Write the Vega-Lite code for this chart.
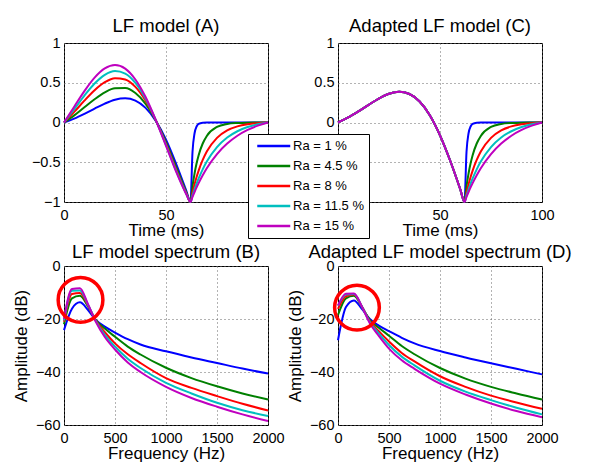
{
"$schema": "https://vega.github.io/schema/vega-lite/v6.json",
"background": "white",
"padding": {"left": 11, "top": 16, "right": 0, "bottom": 0},
"columns": 2,
"spacing": {"row": 3, "column": 0},
"datasets": {
"A": [
{"Ra":"Ra = 1 %","t":0,"v":0},{"Ra":"Ra = 1 %","t":5,"v":0.048},{"Ra":"Ra = 1 %","t":10,"v":0.108},{"Ra":"Ra = 1 %","t":15,"v":0.174},{"Ra":"Ra = 1 %","t":20,"v":0.238},{"Ra":"Ra = 1 %","t":25,"v":0.287},{"Ra":"Ra = 1 %","t":30,"v":0.305},{"Ra":"Ra = 1 %","t":35,"v":0.276},{"Ra":"Ra = 1 %","t":40,"v":0.184},{"Ra":"Ra = 1 %","t":45,"v":0.02},{"Ra":"Ra = 1 %","t":50,"v":-0.217},{"Ra":"Ra = 1 %","t":55,"v":-0.523},{"Ra":"Ra = 1 %","t":60,"v":-0.862},{"Ra":"Ra = 1 %","t":62,"v":-1},{"Ra":"Ra = 1 %","t":63,"v":-0.368},{"Ra":"Ra = 1 %","t":64,"v":-0.135},{"Ra":"Ra = 1 %","t":65,"v":-0.05},{"Ra":"Ra = 1 %","t":66,"v":-0.018},{"Ra":"Ra = 1 %","t":68,"v":-0.003},{"Ra":"Ra = 1 %","t":70,"v":0},{"Ra":"Ra = 1 %","t":75,"v":0},{"Ra":"Ra = 1 %","t":80,"v":0},{"Ra":"Ra = 1 %","t":85,"v":0},{"Ra":"Ra = 1 %","t":90,"v":0},{"Ra":"Ra = 1 %","t":95,"v":0},{"Ra":"Ra = 1 %","t":100,"v":0},
{"Ra":"Ra = 4.5 %","t":0,"v":0},{"Ra":"Ra = 4.5 %","t":5,"v":0.089},{"Ra":"Ra = 4.5 %","t":10,"v":0.191},{"Ra":"Ra = 4.5 %","t":15,"v":0.292},{"Ra":"Ra = 4.5 %","t":20,"v":0.378},{"Ra":"Ra = 4.5 %","t":25,"v":0.43},{"Ra":"Ra = 4.5 %","t":30,"v":0.433},{"Ra":"Ra = 4.5 %","t":35,"v":0.371},{"Ra":"Ra = 4.5 %","t":40,"v":0.235},{"Ra":"Ra = 4.5 %","t":45,"v":0.025},{"Ra":"Ra = 4.5 %","t":50,"v":-0.248},{"Ra":"Ra = 4.5 %","t":55,"v":-0.564},{"Ra":"Ra = 4.5 %","t":60,"v":-0.881},{"Ra":"Ra = 4.5 %","t":62,"v":-1},{"Ra":"Ra = 4.5 %","t":63,"v":-0.801},{"Ra":"Ra = 4.5 %","t":64,"v":-0.641},{"Ra":"Ra = 4.5 %","t":65,"v":-0.513},{"Ra":"Ra = 4.5 %","t":66,"v":-0.411},{"Ra":"Ra = 4.5 %","t":68,"v":-0.264},{"Ra":"Ra = 4.5 %","t":70,"v":-0.169},{"Ra":"Ra = 4.5 %","t":75,"v":-0.056},{"Ra":"Ra = 4.5 %","t":80,"v":-0.018},{"Ra":"Ra = 4.5 %","t":85,"v":-0.006},{"Ra":"Ra = 4.5 %","t":90,"v":-0.002},{"Ra":"Ra = 4.5 %","t":95,"v":-0.001},{"Ra":"Ra = 4.5 %","t":100,"v":0},
{"Ra":"Ra = 8 %","t":0,"v":0},{"Ra":"Ra = 8 %","t":5,"v":0.133},{"Ra":"Ra = 8 %","t":10,"v":0.275},{"Ra":"Ra = 8 %","t":15,"v":0.406},{"Ra":"Ra = 8 %","t":20,"v":0.507},{"Ra":"Ra = 8 %","t":25,"v":0.558},{"Ra":"Ra = 8 %","t":30,"v":0.542},{"Ra":"Ra = 8 %","t":35,"v":0.448},{"Ra":"Ra = 8 %","t":40,"v":0.274},{"Ra":"Ra = 8 %","t":45,"v":0.028},{"Ra":"Ra = 8 %","t":50,"v":-0.27},{"Ra":"Ra = 8 %","t":55,"v":-0.593},{"Ra":"Ra = 8 %","t":60,"v":-0.893},{"Ra":"Ra = 8 %","t":62,"v":-1},{"Ra":"Ra = 8 %","t":63,"v":-0.882},{"Ra":"Ra = 8 %","t":64,"v":-0.778},{"Ra":"Ra = 8 %","t":65,"v":-0.686},{"Ra":"Ra = 8 %","t":66,"v":-0.605},{"Ra":"Ra = 8 %","t":68,"v":-0.471},{"Ra":"Ra = 8 %","t":70,"v":-0.365},{"Ra":"Ra = 8 %","t":75,"v":-0.193},{"Ra":"Ra = 8 %","t":80,"v":-0.099},{"Ra":"Ra = 8 %","t":85,"v":-0.049},{"Ra":"Ra = 8 %","t":90,"v":-0.022},{"Ra":"Ra = 8 %","t":95,"v":-0.008},{"Ra":"Ra = 8 %","t":100,"v":0},
{"Ra":"Ra = 11.5 %","t":0,"v":0},{"Ra":"Ra = 11.5 %","t":5,"v":0.167},{"Ra":"Ra = 11.5 %","t":10,"v":0.338},{"Ra":"Ra = 11.5 %","t":15,"v":0.49},{"Ra":"Ra = 11.5 %","t":20,"v":0.599},{"Ra":"Ra = 11.5 %","t":25,"v":0.647},{"Ra":"Ra = 11.5 %","t":30,"v":0.616},{"Ra":"Ra = 11.5 %","t":35,"v":0.499},{"Ra":"Ra = 11.5 %","t":40,"v":0.299},{"Ra":"Ra = 11.5 %","t":45,"v":0.03},{"Ra":"Ra = 11.5 %","t":50,"v":-0.283},{"Ra":"Ra = 11.5 %","t":55,"v":-0.609},{"Ra":"Ra = 11.5 %","t":60,"v":-0.901},{"Ra":"Ra = 11.5 %","t":62,"v":-1},{"Ra":"Ra = 11.5 %","t":63,"v":-0.917},{"Ra":"Ra = 11.5 %","t":64,"v":-0.84},{"Ra":"Ra = 11.5 %","t":65,"v":-0.769},{"Ra":"Ra = 11.5 %","t":66,"v":-0.704},{"Ra":"Ra = 11.5 %","t":68,"v":-0.589},{"Ra":"Ra = 11.5 %","t":70,"v":-0.492},{"Ra":"Ra = 11.5 %","t":75,"v":-0.31},{"Ra":"Ra = 11.5 %","t":80,"v":-0.189},{"Ra":"Ra = 11.5 %","t":85,"v":-0.11},{"Ra":"Ra = 11.5 %","t":90,"v":-0.057},{"Ra":"Ra = 11.5 %","t":95,"v":-0.023},{"Ra":"Ra = 11.5 %","t":100,"v":0},
{"Ra":"Ra = 15 %","t":0,"v":0},{"Ra":"Ra = 15 %","t":5,"v":0.199},{"Ra":"Ra = 15 %","t":10,"v":0.395},{"Ra":"Ra = 15 %","t":15,"v":0.564},{"Ra":"Ra = 15 %","t":20,"v":0.68},{"Ra":"Ra = 15 %","t":25,"v":0.723},{"Ra":"Ra = 15 %","t":30,"v":0.678},{"Ra":"Ra = 15 %","t":35,"v":0.541},{"Ra":"Ra = 15 %","t":40,"v":0.32},{"Ra":"Ra = 15 %","t":45,"v":0.031},{"Ra":"Ra = 15 %","t":50,"v":-0.293},{"Ra":"Ra = 15 %","t":55,"v":-0.622},{"Ra":"Ra = 15 %","t":60,"v":-0.906},{"Ra":"Ra = 15 %","t":62,"v":-1},{"Ra":"Ra = 15 %","t":63,"v":-0.935},{"Ra":"Ra = 15 %","t":64,"v":-0.874},{"Ra":"Ra = 15 %","t":65,"v":-0.817},{"Ra":"Ra = 15 %","t":66,"v":-0.763},{"Ra":"Ra = 15 %","t":68,"v":-0.664},{"Ra":"Ra = 15 %","t":70,"v":-0.576},{"Ra":"Ra = 15 %","t":75,"v":-0.397},{"Ra":"Ra = 15 %","t":80,"v":-0.265},{"Ra":"Ra = 15 %","t":85,"v":-0.167},{"Ra":"Ra = 15 %","t":90,"v":-0.094},{"Ra":"Ra = 15 %","t":95,"v":-0.04},{"Ra":"Ra = 15 %","t":100,"v":0}
],
"C": [
{"Ra":"Ra = 1 %","t":0,"v":0},{"Ra":"Ra = 1 %","t":5,"v":0.063},{"Ra":"Ra = 1 %","t":10,"v":0.139},{"Ra":"Ra = 1 %","t":15,"v":0.222},{"Ra":"Ra = 1 %","t":20,"v":0.301},{"Ra":"Ra = 1 %","t":25,"v":0.361},{"Ra":"Ra = 1 %","t":30,"v":0.386},{"Ra":"Ra = 1 %","t":35,"v":0.359},{"Ra":"Ra = 1 %","t":40,"v":0.264},{"Ra":"Ra = 1 %","t":45,"v":0.092},{"Ra":"Ra = 1 %","t":50,"v":-0.161},{"Ra":"Ra = 1 %","t":55,"v":-0.481},{"Ra":"Ra = 1 %","t":60,"v":-0.846},{"Ra":"Ra = 1 %","t":62,"v":-1},{"Ra":"Ra = 1 %","t":63,"v":-0.368},{"Ra":"Ra = 1 %","t":64,"v":-0.135},{"Ra":"Ra = 1 %","t":65,"v":-0.05},{"Ra":"Ra = 1 %","t":66,"v":-0.018},{"Ra":"Ra = 1 %","t":68,"v":-0.003},{"Ra":"Ra = 1 %","t":70,"v":0},{"Ra":"Ra = 1 %","t":75,"v":0},{"Ra":"Ra = 1 %","t":80,"v":0},{"Ra":"Ra = 1 %","t":85,"v":0},{"Ra":"Ra = 1 %","t":90,"v":0},{"Ra":"Ra = 1 %","t":95,"v":0},{"Ra":"Ra = 1 %","t":100,"v":0},
{"Ra":"Ra = 4.5 %","t":0,"v":0},{"Ra":"Ra = 4.5 %","t":5,"v":0.063},{"Ra":"Ra = 4.5 %","t":10,"v":0.139},{"Ra":"Ra = 4.5 %","t":15,"v":0.222},{"Ra":"Ra = 4.5 %","t":20,"v":0.301},{"Ra":"Ra = 4.5 %","t":25,"v":0.361},{"Ra":"Ra = 4.5 %","t":30,"v":0.386},{"Ra":"Ra = 4.5 %","t":35,"v":0.359},{"Ra":"Ra = 4.5 %","t":40,"v":0.264},{"Ra":"Ra = 4.5 %","t":45,"v":0.092},{"Ra":"Ra = 4.5 %","t":50,"v":-0.161},{"Ra":"Ra = 4.5 %","t":55,"v":-0.481},{"Ra":"Ra = 4.5 %","t":60,"v":-0.846},{"Ra":"Ra = 4.5 %","t":62,"v":-1},{"Ra":"Ra = 4.5 %","t":63,"v":-0.801},{"Ra":"Ra = 4.5 %","t":64,"v":-0.641},{"Ra":"Ra = 4.5 %","t":65,"v":-0.513},{"Ra":"Ra = 4.5 %","t":66,"v":-0.411},{"Ra":"Ra = 4.5 %","t":68,"v":-0.264},{"Ra":"Ra = 4.5 %","t":70,"v":-0.169},{"Ra":"Ra = 4.5 %","t":75,"v":-0.056},{"Ra":"Ra = 4.5 %","t":80,"v":-0.018},{"Ra":"Ra = 4.5 %","t":85,"v":-0.006},{"Ra":"Ra = 4.5 %","t":90,"v":-0.002},{"Ra":"Ra = 4.5 %","t":95,"v":-0.001},{"Ra":"Ra = 4.5 %","t":100,"v":0},
{"Ra":"Ra = 8 %","t":0,"v":0},{"Ra":"Ra = 8 %","t":5,"v":0.063},{"Ra":"Ra = 8 %","t":10,"v":0.139},{"Ra":"Ra = 8 %","t":15,"v":0.222},{"Ra":"Ra = 8 %","t":20,"v":0.301},{"Ra":"Ra = 8 %","t":25,"v":0.361},{"Ra":"Ra = 8 %","t":30,"v":0.386},{"Ra":"Ra = 8 %","t":35,"v":0.359},{"Ra":"Ra = 8 %","t":40,"v":0.264},{"Ra":"Ra = 8 %","t":45,"v":0.092},{"Ra":"Ra = 8 %","t":50,"v":-0.161},{"Ra":"Ra = 8 %","t":55,"v":-0.481},{"Ra":"Ra = 8 %","t":60,"v":-0.846},{"Ra":"Ra = 8 %","t":62,"v":-1},{"Ra":"Ra = 8 %","t":63,"v":-0.882},{"Ra":"Ra = 8 %","t":64,"v":-0.778},{"Ra":"Ra = 8 %","t":65,"v":-0.686},{"Ra":"Ra = 8 %","t":66,"v":-0.605},{"Ra":"Ra = 8 %","t":68,"v":-0.471},{"Ra":"Ra = 8 %","t":70,"v":-0.365},{"Ra":"Ra = 8 %","t":75,"v":-0.193},{"Ra":"Ra = 8 %","t":80,"v":-0.099},{"Ra":"Ra = 8 %","t":85,"v":-0.049},{"Ra":"Ra = 8 %","t":90,"v":-0.022},{"Ra":"Ra = 8 %","t":95,"v":-0.008},{"Ra":"Ra = 8 %","t":100,"v":0},
{"Ra":"Ra = 11.5 %","t":0,"v":0},{"Ra":"Ra = 11.5 %","t":5,"v":0.063},{"Ra":"Ra = 11.5 %","t":10,"v":0.139},{"Ra":"Ra = 11.5 %","t":15,"v":0.222},{"Ra":"Ra = 11.5 %","t":20,"v":0.301},{"Ra":"Ra = 11.5 %","t":25,"v":0.361},{"Ra":"Ra = 11.5 %","t":30,"v":0.386},{"Ra":"Ra = 11.5 %","t":35,"v":0.359},{"Ra":"Ra = 11.5 %","t":40,"v":0.264},{"Ra":"Ra = 11.5 %","t":45,"v":0.092},{"Ra":"Ra = 11.5 %","t":50,"v":-0.161},{"Ra":"Ra = 11.5 %","t":55,"v":-0.481},{"Ra":"Ra = 11.5 %","t":60,"v":-0.846},{"Ra":"Ra = 11.5 %","t":62,"v":-1},{"Ra":"Ra = 11.5 %","t":63,"v":-0.917},{"Ra":"Ra = 11.5 %","t":64,"v":-0.84},{"Ra":"Ra = 11.5 %","t":65,"v":-0.769},{"Ra":"Ra = 11.5 %","t":66,"v":-0.704},{"Ra":"Ra = 11.5 %","t":68,"v":-0.589},{"Ra":"Ra = 11.5 %","t":70,"v":-0.492},{"Ra":"Ra = 11.5 %","t":75,"v":-0.31},{"Ra":"Ra = 11.5 %","t":80,"v":-0.189},{"Ra":"Ra = 11.5 %","t":85,"v":-0.11},{"Ra":"Ra = 11.5 %","t":90,"v":-0.057},{"Ra":"Ra = 11.5 %","t":95,"v":-0.023},{"Ra":"Ra = 11.5 %","t":100,"v":0},
{"Ra":"Ra = 15 %","t":0,"v":0},{"Ra":"Ra = 15 %","t":5,"v":0.063},{"Ra":"Ra = 15 %","t":10,"v":0.139},{"Ra":"Ra = 15 %","t":15,"v":0.222},{"Ra":"Ra = 15 %","t":20,"v":0.301},{"Ra":"Ra = 15 %","t":25,"v":0.361},{"Ra":"Ra = 15 %","t":30,"v":0.386},{"Ra":"Ra = 15 %","t":35,"v":0.359},{"Ra":"Ra = 15 %","t":40,"v":0.264},{"Ra":"Ra = 15 %","t":45,"v":0.092},{"Ra":"Ra = 15 %","t":50,"v":-0.161},{"Ra":"Ra = 15 %","t":55,"v":-0.481},{"Ra":"Ra = 15 %","t":60,"v":-0.846},{"Ra":"Ra = 15 %","t":62,"v":-1},{"Ra":"Ra = 15 %","t":63,"v":-0.935},{"Ra":"Ra = 15 %","t":64,"v":-0.874},{"Ra":"Ra = 15 %","t":65,"v":-0.817},{"Ra":"Ra = 15 %","t":66,"v":-0.763},{"Ra":"Ra = 15 %","t":68,"v":-0.664},{"Ra":"Ra = 15 %","t":70,"v":-0.576},{"Ra":"Ra = 15 %","t":75,"v":-0.397},{"Ra":"Ra = 15 %","t":80,"v":-0.265},{"Ra":"Ra = 15 %","t":85,"v":-0.167},{"Ra":"Ra = 15 %","t":90,"v":-0.094},{"Ra":"Ra = 15 %","t":95,"v":-0.04},{"Ra":"Ra = 15 %","t":100,"v":0}
],
"B": [
{"Ra":"Ra = 1 %","f":0,"db":-24.2},{"Ra":"Ra = 1 %","f":78,"db":-16.1},{"Ra":"Ra = 1 %","f":156,"db":-13.7},{"Ra":"Ra = 1 %","f":234,"db":-16.5},{"Ra":"Ra = 1 %","f":312,"db":-20.4},{"Ra":"Ra = 1 %","f":400,"db":-22.9},{"Ra":"Ra = 1 %","f":500,"db":-25.1},{"Ra":"Ra = 1 %","f":625,"db":-27.6},{"Ra":"Ra = 1 %","f":750,"db":-29.6},{"Ra":"Ra = 1 %","f":1000,"db":-32.2},{"Ra":"Ra = 1 %","f":1250,"db":-34.5},{"Ra":"Ra = 1 %","f":1500,"db":-36.6},{"Ra":"Ra = 1 %","f":1750,"db":-38.7},{"Ra":"Ra = 1 %","f":2000,"db":-40.6},
{"Ra":"Ra = 4.5 %","f":0,"db":-22},{"Ra":"Ra = 4.5 %","f":78,"db":-12.2},{"Ra":"Ra = 4.5 %","f":156,"db":-11.2},{"Ra":"Ra = 4.5 %","f":234,"db":-15.2},{"Ra":"Ra = 4.5 %","f":312,"db":-20.4},{"Ra":"Ra = 4.5 %","f":400,"db":-23.6},{"Ra":"Ra = 4.5 %","f":500,"db":-26.7},{"Ra":"Ra = 4.5 %","f":625,"db":-30.4},{"Ra":"Ra = 4.5 %","f":750,"db":-33.4},{"Ra":"Ra = 4.5 %","f":1000,"db":-38.4},{"Ra":"Ra = 4.5 %","f":1250,"db":-42.3},{"Ra":"Ra = 4.5 %","f":1500,"db":-45.4},{"Ra":"Ra = 4.5 %","f":1750,"db":-48.1},{"Ra":"Ra = 4.5 %","f":2000,"db":-50.4},
{"Ra":"Ra = 8 %","f":0,"db":-21},{"Ra":"Ra = 8 %","f":78,"db":-10.6},{"Ra":"Ra = 8 %","f":156,"db":-10.2},{"Ra":"Ra = 8 %","f":234,"db":-14.8},{"Ra":"Ra = 8 %","f":312,"db":-20.6},{"Ra":"Ra = 8 %","f":400,"db":-25},{"Ra":"Ra = 8 %","f":500,"db":-29.2},{"Ra":"Ra = 8 %","f":625,"db":-33.3},{"Ra":"Ra = 8 %","f":750,"db":-36.6},{"Ra":"Ra = 8 %","f":1000,"db":-42.3},{"Ra":"Ra = 8 %","f":1250,"db":-46},{"Ra":"Ra = 8 %","f":1500,"db":-49.1},{"Ra":"Ra = 8 %","f":1750,"db":-52},{"Ra":"Ra = 8 %","f":2000,"db":-54.5},
{"Ra":"Ra = 11.5 %","f":0,"db":-20.5},{"Ra":"Ra = 11.5 %","f":78,"db":-9.3},{"Ra":"Ra = 11.5 %","f":156,"db":-9.2},{"Ra":"Ra = 11.5 %","f":234,"db":-14.5},{"Ra":"Ra = 11.5 %","f":312,"db":-20.8},{"Ra":"Ra = 11.5 %","f":400,"db":-26},{"Ra":"Ra = 11.5 %","f":500,"db":-30.4},{"Ra":"Ra = 11.5 %","f":625,"db":-35},{"Ra":"Ra = 11.5 %","f":750,"db":-38.5},{"Ra":"Ra = 11.5 %","f":1000,"db":-44.1},{"Ra":"Ra = 11.5 %","f":1250,"db":-48.1},{"Ra":"Ra = 11.5 %","f":1500,"db":-51.6},{"Ra":"Ra = 11.5 %","f":1750,"db":-54.4},{"Ra":"Ra = 11.5 %","f":2000,"db":-56.6},
{"Ra":"Ra = 15 %","f":0,"db":-20},{"Ra":"Ra = 15 %","f":78,"db":-8.7},{"Ra":"Ra = 15 %","f":156,"db":-8.4},{"Ra":"Ra = 15 %","f":234,"db":-14.3},{"Ra":"Ra = 15 %","f":312,"db":-21.1},{"Ra":"Ra = 15 %","f":400,"db":-26.8},{"Ra":"Ra = 15 %","f":500,"db":-31.5},{"Ra":"Ra = 15 %","f":625,"db":-36.4},{"Ra":"Ra = 15 %","f":750,"db":-40},{"Ra":"Ra = 15 %","f":1000,"db":-45.6},{"Ra":"Ra = 15 %","f":1250,"db":-49.8},{"Ra":"Ra = 15 %","f":1500,"db":-53.1},{"Ra":"Ra = 15 %","f":1750,"db":-56},{"Ra":"Ra = 15 %","f":2000,"db":-58.5}
],
"D": [
{"Ra":"Ra = 1 %","f":0,"db":-28},{"Ra":"Ra = 1 %","f":78,"db":-15.5},{"Ra":"Ra = 1 %","f":156,"db":-13},{"Ra":"Ra = 1 %","f":234,"db":-16.2},{"Ra":"Ra = 1 %","f":312,"db":-20},{"Ra":"Ra = 1 %","f":400,"db":-22.5},{"Ra":"Ra = 1 %","f":500,"db":-24.6},{"Ra":"Ra = 1 %","f":625,"db":-27.1},{"Ra":"Ra = 1 %","f":750,"db":-29.2},{"Ra":"Ra = 1 %","f":1000,"db":-32.1},{"Ra":"Ra = 1 %","f":1250,"db":-34.5},{"Ra":"Ra = 1 %","f":1500,"db":-36.7},{"Ra":"Ra = 1 %","f":1750,"db":-38.8},{"Ra":"Ra = 1 %","f":2000,"db":-40.9},
{"Ra":"Ra = 4.5 %","f":0,"db":-18.5},{"Ra":"Ra = 4.5 %","f":78,"db":-12.2},{"Ra":"Ra = 4.5 %","f":156,"db":-11.2},{"Ra":"Ra = 4.5 %","f":234,"db":-15.4},{"Ra":"Ra = 4.5 %","f":312,"db":-20.4},{"Ra":"Ra = 4.5 %","f":400,"db":-23.3},{"Ra":"Ra = 4.5 %","f":500,"db":-26.3},{"Ra":"Ra = 4.5 %","f":625,"db":-30.2},{"Ra":"Ra = 4.5 %","f":750,"db":-33.3},{"Ra":"Ra = 4.5 %","f":1000,"db":-38.5},{"Ra":"Ra = 4.5 %","f":1250,"db":-42.5},{"Ra":"Ra = 4.5 %","f":1500,"db":-45.6},{"Ra":"Ra = 4.5 %","f":1750,"db":-48.1},{"Ra":"Ra = 4.5 %","f":2000,"db":-50.4},
{"Ra":"Ra = 8 %","f":0,"db":-16.2},{"Ra":"Ra = 8 %","f":78,"db":-11.4},{"Ra":"Ra = 8 %","f":156,"db":-10.8},{"Ra":"Ra = 8 %","f":234,"db":-15.3},{"Ra":"Ra = 8 %","f":312,"db":-20.8},{"Ra":"Ra = 8 %","f":400,"db":-24.6},{"Ra":"Ra = 8 %","f":500,"db":-28.5},{"Ra":"Ra = 8 %","f":625,"db":-32.8},{"Ra":"Ra = 8 %","f":750,"db":-36},{"Ra":"Ra = 8 %","f":1000,"db":-41.6},{"Ra":"Ra = 8 %","f":1250,"db":-45.6},{"Ra":"Ra = 8 %","f":1500,"db":-48.9},{"Ra":"Ra = 8 %","f":1750,"db":-51.5},{"Ra":"Ra = 8 %","f":2000,"db":-53.9},
{"Ra":"Ra = 11.5 %","f":0,"db":-15},{"Ra":"Ra = 11.5 %","f":78,"db":-10.8},{"Ra":"Ra = 11.5 %","f":156,"db":-10.6},{"Ra":"Ra = 11.5 %","f":234,"db":-15.3},{"Ra":"Ra = 11.5 %","f":312,"db":-21.2},{"Ra":"Ra = 11.5 %","f":400,"db":-25.4},{"Ra":"Ra = 11.5 %","f":500,"db":-29.8},{"Ra":"Ra = 11.5 %","f":625,"db":-34.2},{"Ra":"Ra = 11.5 %","f":750,"db":-37.5},{"Ra":"Ra = 11.5 %","f":1000,"db":-43.3},{"Ra":"Ra = 11.5 %","f":1250,"db":-47.4},{"Ra":"Ra = 11.5 %","f":1500,"db":-50.6},{"Ra":"Ra = 11.5 %","f":1750,"db":-53.5},{"Ra":"Ra = 11.5 %","f":2000,"db":-56},
{"Ra":"Ra = 15 %","f":0,"db":-14.9},{"Ra":"Ra = 15 %","f":78,"db":-10.5},{"Ra":"Ra = 15 %","f":156,"db":-10.4},{"Ra":"Ra = 15 %","f":234,"db":-15.3},{"Ra":"Ra = 15 %","f":312,"db":-21.6},{"Ra":"Ra = 15 %","f":400,"db":-26.4},{"Ra":"Ra = 15 %","f":500,"db":-31.2},{"Ra":"Ra = 15 %","f":625,"db":-35.6},{"Ra":"Ra = 15 %","f":750,"db":-38.8},{"Ra":"Ra = 15 %","f":1000,"db":-44.4},{"Ra":"Ra = 15 %","f":1250,"db":-48.5},{"Ra":"Ra = 15 %","f":1500,"db":-51.9},{"Ra":"Ra = 15 %","f":1750,"db":-54.75},{"Ra":"Ra = 15 %","f":2000,"db":-57.1}
],
"circB": [{"f":162,"db":-12.8}],
"circD": [{"f":186,"db":-15.7}]
},
"concat": [
{"width":204,"height":159,"title":{"text":"LF model (A)","offset":0},"data":{"name":"A"},
 "mark":{"type":"line","interpolate":"monotone","strokeWidth":2},
 "encoding":{
  "x":{"field":"t","type":"quantitative","title":"Time (ms)","scale":{"domain":[0,100],"nice":false},"axis":{"values":[0,50,100],"format":"~f"}},
  "y":{"field":"v","type":"quantitative","title":null,"scale":{"domain":[-1,1],"nice":false},"axis":{"values":[-1,-0.5,0,0.5,1],"format":"~f"}},
  "color":{"field":"Ra","type":"nominal","title":null,"scale":{"domain":["Ra = 1 %","Ra = 4.5 %","Ra = 8 %","Ra = 11.5 %","Ra = 15 %"],"range":["#0000FF","#008000","#FF0000","#00BFBF","#BF00BF"]},"legend":{"orient":"none","legendX":184,"legendY":91}}
 }},
{"width":204,"height":159,"title":{"text":"Adapted LF model (C)","offset":0},"data":{"name":"C"},
 "mark":{"type":"line","interpolate":"monotone","strokeWidth":2},
 "encoding":{
  "x":{"field":"t","type":"quantitative","title":"Time (ms)","scale":{"domain":[0,100],"nice":false},"axis":{"values":[0,50,100],"format":"~f"}},
  "y":{"field":"v","type":"quantitative","title":null,"scale":{"domain":[-1,1],"nice":false},"axis":{"values":[-1,-0.5,0,0.5,1],"format":"~f"}},
  "color":{"field":"Ra","type":"nominal","title":null,"scale":{"domain":["Ra = 1 %","Ra = 4.5 %","Ra = 8 %","Ra = 11.5 %","Ra = 15 %"],"range":["#0000FF","#008000","#FF0000","#00BFBF","#BF00BF"]},"legend":{"orient":"none","legendX":184,"legendY":91}}
 }},
{"width":204,"height":159,"title":{"text":"LF model spectrum (B)","offset":-3},
 "layer":[
  {"data":{"name":"B"},"mark":{"type":"line","interpolate":"monotone","strokeWidth":2},
   "encoding":{
    "x":{"field":"f","type":"quantitative","title":"Frequency (Hz)","scale":{"domain":[0,2000],"nice":false},"axis":{"values":[0,500,1000,1500,2000],"format":"~f"}},
    "y":{"field":"db","type":"quantitative","title":"Amplitude (dB)","scale":{"domain":[-60,0],"nice":false},"axis":{"values":[-60,-40,-20,0],"format":"~f"}},
    "color":{"field":"Ra","type":"nominal","title":null,"scale":{"domain":["Ra = 1 %","Ra = 4.5 %","Ra = 8 %","Ra = 11.5 %","Ra = 15 %"],"range":["#0000FF","#008000","#FF0000","#00BFBF","#BF00BF"]},"legend":{"orient":"none","legendX":184,"legendY":91}}
   }},
  {"data":{"name":"circB"},"mark":{"type":"point","shape":"circle","filled":false,"stroke":"#FF0000","strokeWidth":3.5,"size":2000,"opacity":1},
   "encoding":{"x":{"field":"f","type":"quantitative"},"y":{"field":"db","type":"quantitative"}}}
 ]},
{"width":204,"height":159,"title":{"text":"Adapted LF model spectrum (D)","offset":-3},
 "layer":[
  {"data":{"name":"D"},"mark":{"type":"line","interpolate":"monotone","strokeWidth":2},
   "encoding":{
    "x":{"field":"f","type":"quantitative","title":"Frequency (Hz)","scale":{"domain":[0,2000],"nice":false},"axis":{"values":[0,500,1000,1500,2000],"format":"~f"}},
    "y":{"field":"db","type":"quantitative","title":"Amplitude (dB)","scale":{"domain":[-60,0],"nice":false},"axis":{"values":[-60,-40,-20,0],"format":"~f"}},
    "color":{"field":"Ra","type":"nominal","title":null,"scale":{"domain":["Ra = 1 %","Ra = 4.5 %","Ra = 8 %","Ra = 11.5 %","Ra = 15 %"],"range":["#0000FF","#008000","#FF0000","#00BFBF","#BF00BF"]},"legend":{"orient":"none","legendX":184,"legendY":91}}
   }},
  {"data":{"name":"circD"},"mark":{"type":"point","shape":"circle","filled":false,"stroke":"#FF0000","strokeWidth":3.5,"size":2000,"opacity":1},
   "encoding":{"x":{"field":"f","type":"quantitative"},"y":{"field":"db","type":"quantitative"}}}
 ]}
],
"config": {
 "font": "Liberation Sans",
 "view": {"stroke": "black", "strokeWidth": 1},
 "axis": {"domain": false, "ticks": false, "labelFontSize": 14.5, "labelColor": "black", "labelPadding": 4, "labelFlush": false, "labelOverlap": false, "titleFontSize": 17, "titleFontWeight": "normal", "titleColor": "black", "grid": true, "gridColor": "#666666", "gridDash": [1, 3], "gridOpacity": 1},
 "axisX": {"titlePadding": 1, "labelPadding": 6},
 "axisY": {"titlePadding": 5},
 "title": {"fontSize": 18.5, "fontWeight": "normal", "color": "black"},
 "legend": {"strokeColor": "black", "fillColor": "white", "padding": 5, "labelFontSize": 13, "labelColor": "black", "symbolType": "M-0.5,0H5.5", "symbolStrokeWidth": 2.5, "symbolSize": 121, "rowPadding": 6, "labelOffset": 26, "cornerRadius": 0, "strokeWidth": 1, "labelLimit": 200}
}
}
